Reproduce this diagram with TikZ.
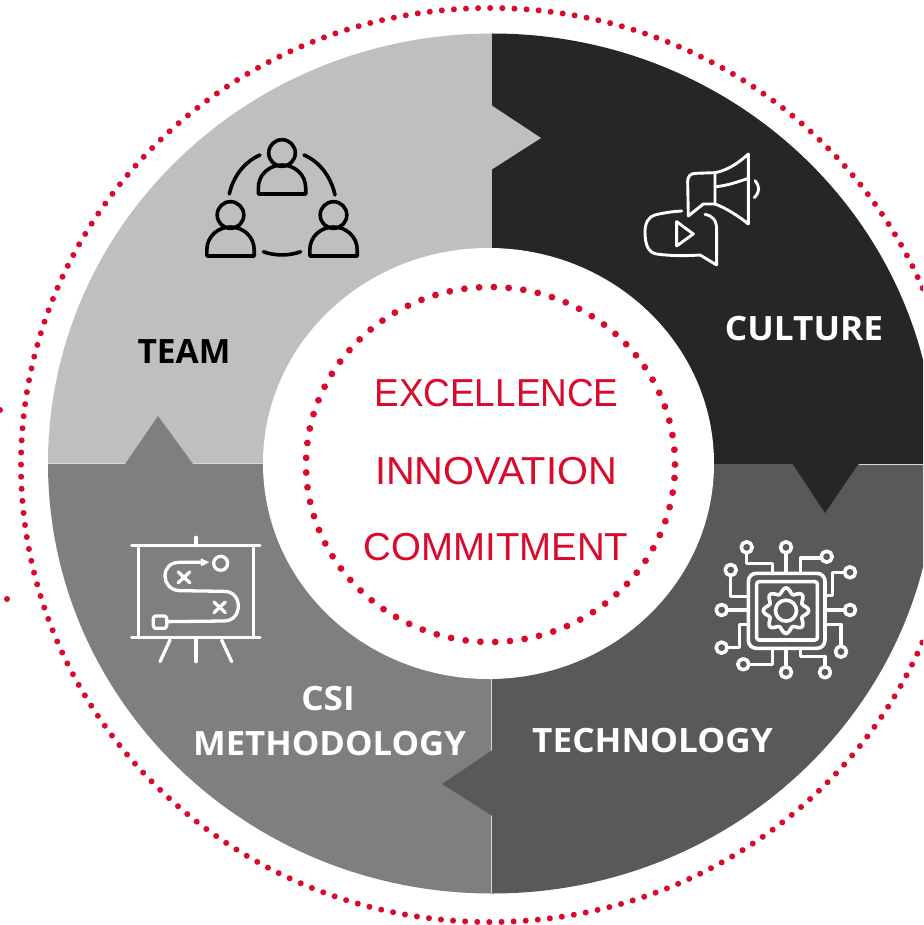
\documentclass[tikz,border=0pt]{standalone}
\usepackage{fontspec}
\setmainfont{Liberation Sans}
\newfontfamily\labfont{Open Sans}[BoldFont={Open Sans Bold}]
\definecolor{lightq}{HTML}{BFBFBF}
\definecolor{blackq}{HTML}{262626}
\definecolor{darkq}{HTML}{595959}
\definecolor{midq}{HTML}{7F7F7F}
\definecolor{redx}{HTML}{DA0A2C}
\definecolor{seam}{HTML}{D9D9D9}
\tikzset{
  redlabel/.style={anchor=base,inner sep=0pt,text=redx,font=\fontsize{39}{39}\selectfont},
  quadlabel/.style={anchor=base,inner sep=0pt,font=\labfont\fontsize{33.5}{33.5}\selectfont\bfseries},
  reddots/.style={draw=redx,line cap=round,dash pattern=on 0pt off #1},
  ico/.style={line cap=round,line join=round,fill=none},
  person/.pic={
    \draw[ico] (0,-41) circle[radius=13.3pt];
    \draw[ico] (-23.7,0) -- (23.7,0) -- (23.7,-6) .. controls (23.7,-20) and (12,-29) .. (0,-29) .. controls (-12,-29) and (-23.7,-20) .. (-23.7,-6) -- cycle;
  },
  pin/.style={ico,fill=darkq},
}
\newcommand{\zoomscope}[3]{\begin{scope}[shift={(#1,#2)},x=0.3333pt,y=-0.3333pt,#3]}
\begin{document}
\begin{tikzpicture}[x=1pt,y=-1pt]
\useasboundingbox (0,0) rectangle (923,925);
\clip (0,0) rectangle (923,925);
\fill[white] (0,0) rectangle (923,925);
% outer dotted ring
\draw[reddots=12.12pt,line width=6pt] (490,465) ellipse [x radius=469pt,y radius=457pt];
\fill[redx] (0,410) circle[radius=3pt];
\fill[redx] (7,599) circle[radius=3pt];
% quadrants
\begin{scope}
  \clip (492,463.5) ellipse [x radius=444pt,y radius=430pt];
  \fill[lightq] (0,0) rectangle (492,463.5);
  \fill[blackq] (492,0) rectangle (940,463.5);
  \fill[midq] (0,463.5) rectangle (492,925);
  \fill[darkq] (492,463.5) rectangle (940,925);
  \draw[seam,line width=0.8pt] (40,463.5) -- (280,463.5);
  \draw[seam,line width=0.8pt] (859,464) -- (940,464);
  \draw[seam,line width=0.8pt] (491.5,670) -- (491.5,900);
\end{scope}
% interlocking notches
\fill[lightq] (491,105) -- (541,138) -- (491,170) -- cycle;
\fill[blackq] (792,463) -- (825,513) -- (859,463) -- cycle;
\fill[darkq] (492.5,750) -- (442,784) -- (492.5,816) -- cycle;
\fill[midq] (125,464) -- (158,416) -- (193,464) -- cycle;
% centre
\fill[white] (488.5,463.5) ellipse [x radius=225.5pt,y radius=215.5pt];
\draw[reddots=14.79pt,line width=6.8pt] (490.5,464.5) ellipse [x radius=184.5pt,y radius=177.5pt];
% centre text
\node[redlabel] (excellence) at (496.5,406) {\scalebox{0.947}[1]{EXCELLENCE}};
\node[redlabel] (innovation) at (496,484) {\scalebox{1.02}[1]{INNOVATION}};
\node[redlabel] (commitment) at (496,560) {\scalebox{0.985}[1]{COMMITMENT}};
% quadrant labels
\node[quadlabel,text=black] (team) at (184,363) {TEAM};
\node[quadlabel,text=white] (culture) at (804,340) {\scalebox{1.05}[1]{CULTURE}};
\node[quadlabel,text=white] (csi) at (328,710) {\scalebox{1.05}[1]{CSI}};
\node[quadlabel,text=white] (method) at (329.5,755) {\scalebox{1.035}[1]{METHODOLOGY}};
\node[quadlabel,text=white] (tech) at (652.5,752) {\scalebox{1.05}[1]{TECHNOLOGY}};
% team icon
\begin{scope}[draw=black,line width=3.6pt]
  \pic at (282,194) {person};
  \pic at (230.5,256) {person};
  \pic at (333.5,256) {person};
  \draw[ico] (260,155) .. controls (244,162) and (233,177) .. (229.3,194);
  \draw[ico] (304,155) .. controls (320,162) and (331,177) .. (335,195);
  \draw[ico] (263.3,251.7) .. controls (275,256) and (289,256) .. (300.7,251.7);
\end{scope}
% culture icon
\zoomscope{620}{130}{draw=white,line width=2.9pt}
  \draw[ico] (285,128) .. controls (320,122) and (355,100) .. (385,72) -- (385,282) .. controls (355,258) and (320,235) .. (285,222) -- cycle;
  \draw[ico] (285,170) .. controls (320,168) and (355,155) .. (385,145);
  \draw[ico] (285,128) -- (228,130) .. controls (210,130) and (203,140) .. (203,155) -- (205,258) -- (250,222) -- (285,222);
  \draw[ico] (405,152) .. controls (420,170) and (420,185) .. (403,203);
  \draw[ico] (185,243) .. controls (150,245) and (125,250) .. (105,255) .. controls (85,260) and (75,280) .. (75,305) .. controls (75,345) and (85,368) .. (110,372) .. controls (150,378) and (200,378) .. (240,375) -- (290,405) -- (290,300) .. controls (290,270) and (278,258) .. (255,253);
  \draw[ico] (170,275) -- (220,312) -- (170,348) -- cycle;
\end{scope}
% technology icon
\zoomscope{700}{530}{draw=white,line width=3.6pt}
  \draw[ico,rounded corners=8pt] (145,130) rectangle (375,355);
  \draw[ico,rounded corners=2.5pt] (170,155) rectangle (352,330);
  \draw[ico] plot[domain=0:360,samples=121,smooth] ({258+(60+8*cos(8*\x))*cos(\x)},{242+(60+8*cos(8*\x))*sin(\x)}) -- cycle;
  \draw[ico] (258,242) circle[radius=10.5pt];
  \draw[ico] (140,66) -- (140,100) -- (217,100) -- (217,130);
  \draw[ico] (258,66) -- (258,130);
  \draw[ico] (366,84) -- (302,84) -- (302,130);
  \draw[ico] (92,134) -- (92,200) -- (145,200);
  \draw[ico] (436,127) -- (397,127) -- (397,197) -- (375,197);
  \draw[ico] (79,240) -- (145,240);
  \draw[ico] (436,240) -- (375,240);
  \draw[ico] (79,353) -- (118,353) -- (118,283) -- (145,283);
  \draw[ico] (423,351) -- (423,283) -- (375,283);
  \draw[ico] (144,403) -- (217,403) -- (217,355);
  \draw[ico] (258,413) -- (258,355);
  \draw[ico] (375,413) -- (375,380) -- (302,380) -- (302,355);
  \foreach \px/\py in {140/52,258/52,380/80,92/120,450/127,65/240,450/240,65/353,423/365,130/403,258/427,375/427}
    \draw[pin] (\px,\py) circle[radius=5.5pt];
\end{scope}
% methodology icon
\zoomscope{120}{530}{draw=white,line width=3.3pt}
  \draw[ico] (35,47) -- (420,47);
  \draw[ico] (228,22) -- (228,47);
  \draw[ico] (55,47) -- (55,323);
  \draw[ico] (400,47) -- (400,323);
  \draw[ico] (35,323) -- (420,323);
  \draw[ico] (228,330) -- (228,395);
  \draw[ico] (150,330) -- (120,395);
  \draw[ico] (305,330) -- (335,395);
  \draw[ico] (302,100) circle[radius=7pt];
  \draw[ico] (245,97) -- (178,97) .. controls (150,97) and (135,115) .. (135,138) .. controls (135,160) and (150,180) .. (178,182) -- (312,184) .. controls (340,184) and (355,205) .. (355,228) .. controls (355,252) and (340,273) .. (312,273) -- (140,275);
  \fill[white] (268,97) -- (243,85) -- (243,109) -- cycle;
  \draw[ico,rounded corners=2.5pt] (100,258) rectangle (140,295);
  \draw[ico] (175,126) -- (209,158);
  \draw[ico] (209,126) -- (175,158);
  \draw[ico] (282,216) -- (316,248);
  \draw[ico] (316,216) -- (282,248);
\end{scope}
\end{tikzpicture}
\end{document}
